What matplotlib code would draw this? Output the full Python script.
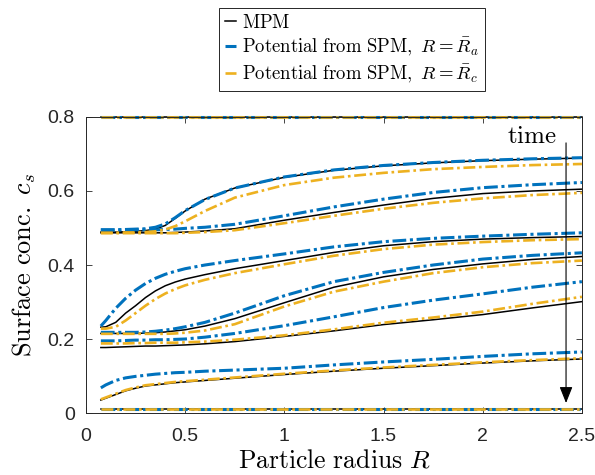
import numpy as np
import matplotlib
matplotlib.use('Agg')
import matplotlib.pyplot as plt

plt.rcParams['mathtext.fontset'] = 'cm'
plt.rcParams['font.family'] = ['Liberation Sans', 'DejaVu Sans']

# particle radius where values were read
r = [0.075, 0.1, 0.15, 0.2, 0.25, 0.3, 0.35, 0.4, 0.45, 0.5, 0.6, 0.75, 1.0, 1.25, 1.5, 1.75, 2.0, 2.25, 2.5]

# surface concentration, one row per time (top to bottom)
mpm = [
    [0.8] * 19,
    [0.489, 0.489, 0.489, 0.49, 0.491, 0.493, 0.497, 0.507, 0.526, 0.546, 0.578, 0.608, 0.637, 0.656, 0.668, 0.676, 0.682, 0.686, 0.689],
    [0.487, 0.487, 0.487, 0.487, 0.487, 0.487, 0.487, 0.487, 0.488, 0.489, 0.492, 0.498, 0.521, 0.542, 0.562, 0.58, 0.593, 0.6, 0.605],
    [0.232, 0.233, 0.245, 0.27, 0.29, 0.312, 0.33, 0.344, 0.354, 0.362, 0.374, 0.39, 0.412, 0.434, 0.452, 0.463, 0.47, 0.474, 0.477],
    [0.215, 0.215, 0.215, 0.215, 0.215, 0.216, 0.217, 0.219, 0.222, 0.225, 0.235, 0.255, 0.298, 0.34, 0.368, 0.388, 0.403, 0.415, 0.423],
    [0.177, 0.177, 0.178, 0.179, 0.18, 0.181, 0.181, 0.182, 0.183, 0.184, 0.187, 0.193, 0.207, 0.222, 0.239, 0.252, 0.266, 0.284, 0.301],
    [0.035, 0.04, 0.05, 0.06, 0.067, 0.073, 0.076, 0.079, 0.082, 0.084, 0.088, 0.094, 0.104, 0.113, 0.121, 0.128, 0.135, 0.141, 0.146],
    [0.01] * 19,
]
spm_a = [
    [0.8] * 19,
    [0.495, 0.495, 0.495, 0.496, 0.497, 0.498, 0.502, 0.511, 0.528, 0.547, 0.577, 0.608, 0.638, 0.657, 0.669, 0.677, 0.683, 0.687, 0.69],
    [0.495, 0.495, 0.495, 0.495, 0.495, 0.495, 0.495, 0.496, 0.497, 0.499, 0.502, 0.51, 0.533, 0.557, 0.578, 0.596, 0.609, 0.617, 0.623],
    [0.235, 0.25, 0.283, 0.31, 0.332, 0.35, 0.364, 0.375, 0.383, 0.39, 0.4, 0.412, 0.43, 0.449, 0.463, 0.472, 0.478, 0.483, 0.487],
    [0.218, 0.218, 0.218, 0.218, 0.218, 0.219, 0.221, 0.224, 0.228, 0.233, 0.245, 0.27, 0.317, 0.355, 0.38, 0.4, 0.416, 0.426, 0.433],
    [0.195, 0.195, 0.195, 0.196, 0.197, 0.197, 0.198, 0.198, 0.199, 0.2, 0.205, 0.215, 0.236, 0.26, 0.285, 0.305, 0.322, 0.34, 0.355],
    [0.068, 0.076, 0.088, 0.095, 0.099, 0.102, 0.105, 0.107, 0.109, 0.11, 0.113, 0.116, 0.121, 0.13, 0.138, 0.145, 0.153, 0.16, 0.165],
    [0.01] * 19,
]
spm_c = [
    [0.8] * 19,
    [0.487, 0.487, 0.487, 0.488, 0.488, 0.489, 0.491, 0.496, 0.505, 0.518, 0.546, 0.582, 0.616, 0.636, 0.649, 0.659, 0.665, 0.67, 0.673],
    [0.486, 0.486, 0.486, 0.486, 0.486, 0.486, 0.486, 0.486, 0.486, 0.487, 0.489, 0.494, 0.513, 0.533, 0.552, 0.568, 0.58, 0.589, 0.595],
    [0.228, 0.228, 0.233, 0.25, 0.27, 0.29, 0.308, 0.323, 0.335, 0.345, 0.36, 0.378, 0.402, 0.425, 0.443, 0.455, 0.462, 0.467, 0.47],
    [0.214, 0.214, 0.214, 0.214, 0.214, 0.214, 0.214, 0.214, 0.215, 0.217, 0.223, 0.24, 0.288, 0.328, 0.355, 0.378, 0.394, 0.405, 0.412],
    [0.188, 0.188, 0.188, 0.188, 0.189, 0.189, 0.19, 0.19, 0.19, 0.191, 0.193, 0.198, 0.21, 0.226, 0.244, 0.258, 0.274, 0.295, 0.314],
    [0.037, 0.042, 0.052, 0.062, 0.069, 0.075, 0.078, 0.081, 0.084, 0.086, 0.09, 0.096, 0.106, 0.115, 0.123, 0.13, 0.137, 0.143, 0.148],
    [0.01] * 19,
]

blue = '#0072BD'
orange = '#EDB120'

fig = plt.figure(figsize=(5.95, 4.75), dpi=100)
ax = fig.add_axes([0.1445, 0.1305, 0.8335, 0.6232])

for i in range(len(mpm)):
    ax.plot(r, mpm[i], color='k', lw=1.1, clip_on=False,
            label='$\\mathrm{MPM}$' if i == 0 else None)
for i in range(len(spm_a)):
    ax.plot(r, spm_a[i], color=blue, lw=2.2, dashes=(4.5, 1.2, 1, 1.2), clip_on=False,
            label='$\\mathrm{Potential\\ from\\ SPM,}\\ R=\\bar{R}_a$' if i == 0 else None)
for i in range(len(spm_c)):
    ax.plot(r, spm_c[i], color=orange, lw=1.9, dashes=(4.5, 1.4, 1, 1.4), clip_on=False,
            label='$\\mathrm{Potential\\ from\\ SPM,}\\ R=\\bar{R}_c$' if i == 0 else None)

# time arrow
ax.annotate('', xy=(2.42, 0.027), xytext=(2.42, 0.73),
            arrowprops=dict(arrowstyle='-|>,head_length=1.0,head_width=0.4',
                            color='#444444', lw=0.8, shrinkA=0, shrinkB=0,
                            fc='k', ec='k'))
ax.text(2.25, 0.748, '$\\mathrm{time}$', fontsize=18, ha='center', va='center')

ax.set_xlim(0, 2.5)
ax.set_ylim(0, 0.8)
ax.set_xticks([0, 0.5, 1, 1.5, 2, 2.5])
ax.set_xticklabels(['0', '0.5', '1', '1.5', '2', '2.5'])
ax.set_yticks([0, 0.2, 0.4, 0.6, 0.8])
ax.set_yticklabels(['0', '0.2', '0.4', '0.6', '0.8'])
ax.tick_params(direction='in', length=4, width=0.6, top=True, right=True,
               labelsize=14, colors='#262626', pad=8)
ax.tick_params(axis='x', pad=11)
for s in ax.spines.values():
    s.set_linewidth(0.7)
    s.set_color('#262626')

ax.set_xlabel('$\\mathrm{Particle\\ radius}\\ R$', fontsize=18.5, labelpad=2)
ax.set_ylabel('$\\mathrm{Surface\\ conc.}\\ c_s$', fontsize=19, labelpad=7)

leg = fig.legend(loc='upper center', bbox_to_anchor=(0.5916, 0.983), fontsize=13.5,
                 handlelength=0.6, handletextpad=0.3, borderpad=0.3,
                 labelspacing=0.25, fancybox=False, framealpha=1,
                 edgecolor='#262626', borderaxespad=0)
leg.get_frame().set_linewidth(0.7)

fig.savefig('out.png', dpi=100)
